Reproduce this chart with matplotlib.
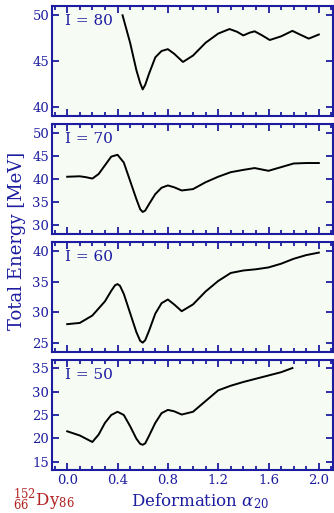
import matplotlib
matplotlib.use("Agg")
import matplotlib.pyplot as plt
from matplotlib.ticker import MultipleLocator

plt.rcParams['font.family'] = ['DejaVu Serif']
plt.rcParams['mathtext.fontset'] = 'dejavuserif'

# Data
x80 = [0.44, 0.5, 0.55, 0.58, 0.6, 0.62, 0.65, 0.7, 0.75, 0.8, 0.85, 0.92, 1.0, 1.1, 1.2, 1.29, 1.35, 1.40, 1.45, 1.49, 1.55, 1.61, 1.7, 1.79, 1.85, 1.92, 2.0]
y80 = [50.0, 47.0, 44.0, 42.6, 41.9, 42.4, 43.6, 45.4, 46.1, 46.3, 45.8, 44.9, 45.6, 47.0, 48.0, 48.5, 48.2, 47.8, 48.1, 48.25, 47.8, 47.3, 47.7, 48.3, 47.9, 47.45, 47.9]

x70 = [0.0, 0.1, 0.15, 0.2, 0.25, 0.3, 0.35, 0.4, 0.45, 0.5, 0.55, 0.58, 0.6, 0.62, 0.65, 0.7, 0.75, 0.8, 0.85, 0.91, 1.0, 1.1, 1.2, 1.3, 1.4, 1.49, 1.6, 1.7, 1.8, 1.9, 2.0]
y70 = [40.5, 40.6, 40.4, 40.1, 41.1, 43.0, 44.9, 45.3, 43.6, 39.6, 35.6, 33.4, 32.8, 33.1, 34.5, 36.7, 38.1, 38.6, 38.2, 37.5, 37.8, 39.3, 40.5, 41.5, 42.0, 42.4, 41.8, 42.6, 43.4, 43.5, 43.5]

x60 = [0.0, 0.1, 0.2, 0.3, 0.35, 0.38, 0.4, 0.42, 0.45, 0.5, 0.55, 0.58, 0.6, 0.62, 0.65, 0.7, 0.75, 0.8, 0.85, 0.91, 1.0, 1.1, 1.2, 1.3, 1.4, 1.5, 1.6, 1.7, 1.8, 1.9, 2.0]
y60 = [28.1, 28.3, 29.5, 31.8, 33.5, 34.4, 34.6, 34.3, 33.0, 29.9, 26.8, 25.4, 25.1, 25.5, 27.0, 29.8, 31.5, 32.1, 31.3, 30.2, 31.3, 33.4, 35.1, 36.4, 36.8, 37.0, 37.3, 37.9, 38.7, 39.3, 39.7]

x50 = [0.0, 0.1, 0.2, 0.25, 0.3, 0.35, 0.4, 0.45, 0.5, 0.55, 0.58, 0.6, 0.62, 0.65, 0.7, 0.75, 0.8, 0.85, 0.91, 1.0, 1.1, 1.2, 1.3, 1.4, 1.5, 1.6, 1.7, 1.79]
y50 = [21.5, 20.6, 19.2, 20.8, 23.3, 25.0, 25.7, 25.0, 22.6, 19.9, 18.8, 18.6, 18.9, 20.5, 23.3, 25.4, 26.1, 25.8, 25.1, 25.7, 28.0, 30.3, 31.3, 32.1, 32.8, 33.5, 34.2, 35.1]

spins = ["I = 80", "I = 70", "I = 60", "I = 50"]
xs = [x80, x70, x60, x50]
ys = [y80, y70, y60, y50]
ylims = [(39, 51), (28, 52), (23.6, 41.4), (13.2, 36.8)]
xticks = [0.0, 0.4, 0.8, 1.2, 1.6, 2.0]

blue = "#1c1ca0"
bg = "#f6fbf4"

fig = plt.figure(figsize=(3.34, 5.13), dpi=100)
left, width = 0.156, 0.84
bottoms = [0.774, 0.544, 0.314, 0.084]
height = 0.214

for i in range(4):
    ax = fig.add_axes([left, bottoms[i], width, height])
    ax.set_facecolor(bg)
    ax.plot(xs[i], ys[i], color="black", lw=1.4, solid_joinstyle='round')
    ax.set_xlim(-0.12, 2.11)
    ax.set_ylim(*ylims[i])
    ax.xaxis.set_major_locator(MultipleLocator(0.4))
    ax.xaxis.set_minor_locator(MultipleLocator(0.1))
    ax.yaxis.set_major_locator(MultipleLocator(5))
    ax.tick_params(which='both', direction='in', top=True, right=True, color=blue,
                   labelcolor=blue, labelsize=9.5, width=1.3)
    ax.tick_params(which='major', length=5)
    ax.tick_params(which='minor', length=3)
    ax.tick_params(axis='y', pad=2)
    ax.tick_params(axis='x', pad=3)
    for s in ax.spines.values():
        s.set_color(blue)
        s.set_linewidth(1.5)
    ax.text(0.045, 0.93, spins[i], transform=ax.transAxes, va='top', ha='left',
            color=blue, fontsize=11)
    if i < 3:
        ax.set_xticklabels([])
    else:
        ax.set_xticks(xticks)
        ax.set_xticklabels([f"{v:.1f}" for v in xticks])

fig.text(0.052, 0.53, "Total Energy [MeV]", rotation=90, ha='center', va='center',
         color=blue, fontsize=13)
fig.text(0.6, 0.024, r"Deformation $\alpha_{20}$", ha='center', va='center',
         color=blue, fontsize=12)
fig.text(0.04, 0.026, r"${}^{152}_{66}\mathrm{Dy}_{86}$", ha='left', va='center',
         color="#b22222", fontsize=12)

fig.savefig("out.png", dpi=100, facecolor="white")
